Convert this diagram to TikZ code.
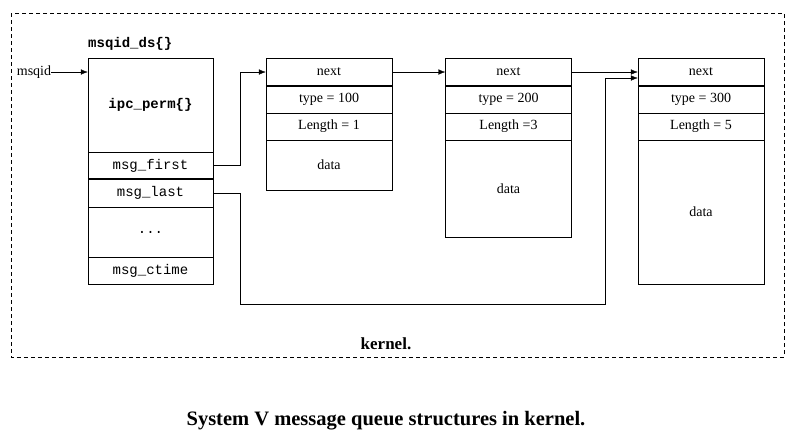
\documentclass[tikz,border=0pt]{standalone}
\usepackage{fontspec}
\setmainfont{Liberation Serif}
\setmonofont{Liberation Mono}
\usetikzlibrary{arrows.meta}

\begin{document}
\begin{tikzpicture}[x=1pt,y=-1pt]
                          \tikzstyle{every node}+=[inner sep=0pt]
                          \tikzstyle{cell}=[draw=black, rectangle, minimum width=126pt, font=\fontsize{14}{16}\selectfont]
                          \tikzstyle{field}=[draw=black, rectangle, minimum width=125pt, font=\fontsize{14}{16}\selectfont\ttfamily]
                          \tikzstyle{link}=[black, -{Latex[length=7pt,width=5.5pt]}]
                          \tikzstyle{thickrule}=[black, line width=2.2pt]
                          \useasboundingbox (0,0) rectangle (812,445);
                          \draw [black, dash pattern=on 4pt off 3pt] (11,13) rectangle (784,357);
                          \node [anchor=west, font=\fontsize{14}{16}\selectfont\ttfamily\bfseries] (dstitle) at (88,44) {msqid\_ds\{\}};
                          \node [field, minimum height=94pt, font=\fontsize{14}{16}\selectfont\ttfamily\bfseries] (ipc) at (150.5,105) {ipc\_perm\{\}};
                          \node [field, minimum height=27pt] (first) at (150.5,165.5) {msg\_first};
                          \node [field, minimum height=28pt] (last) at (150.5,193) {msg\_last};
                          \node [field, minimum height=50pt] (dots) at (150.5,232) {...};
                          \node [field, minimum height=27pt] (ctime) at (150.5,270.5) {msg\_ctime};
                          \draw [thickrule] (first.south west) -- (first.south east);
                          \node [font=\fontsize{14}{16}\selectfont] (msqid) at (34,72) {msqid};
                          \draw [link] (msqid.east) -- (ipc.west |- msqid.east);
                          \node [cell, minimum height=28pt] (next1) at (329,72) {next};
                          \node [cell, minimum height=27pt] (type1) at (329,99.5) {type = 100};
                          \node [cell, minimum height=27pt] (len1) at (329,126.5) {Length = 1};
                          \node [cell, minimum height=50pt] (data1) at (329,165) {data};
                          \draw [thickrule] (next1.south west) -- (next1.south east);
                          \node [cell, minimum height=28pt] (next2) at (508.5,72) {next};
                          \node [cell, minimum height=27pt] (type2) at (508.5,99.5) {type = 200};
                          \node [cell, minimum height=27pt] (len2) at (508.5,126.5) {Length =3};
                          \node [cell, minimum height=97pt] (data2) at (508.5,188.5) {data};
                          \draw [thickrule] (next2.south west) -- (next2.south east);
                          \node [cell, minimum height=28pt] (next3) at (701,72) {next};
                          \node [cell, minimum height=27pt] (type3) at (701,99.5) {type = 300};
                          \node [cell, minimum height=27pt] (len3) at (701,126.5) {Length = 5};
                          \node [cell, minimum height=144pt] (data3) at (701,212) {data};
                          \draw [thickrule] (next3.south west) -- (next3.south east);
                          \draw [link] (first.east) -- ++(27,0) |- (next1.west);
                          \draw [link] (next1.east) -- (next2.west);
                          \draw [link] (next2.east) -- (next3.west);
                          \coordinate (lastturn) at (605,304);
                          \draw [link] (last.east) -- ++(27,0) |- (lastturn) |- ([yshift=-6pt]next3.west);
                          \node [font=\fontsize{17}{20}\selectfont\bfseries] (kernel) at (386,344) {kernel.};
                          \node [font=\fontsize{20.5}{24}\selectfont\bfseries] (caption) at (386,421) {System V message queue structures in kernel.};
                      \end{tikzpicture}
\end{document}
